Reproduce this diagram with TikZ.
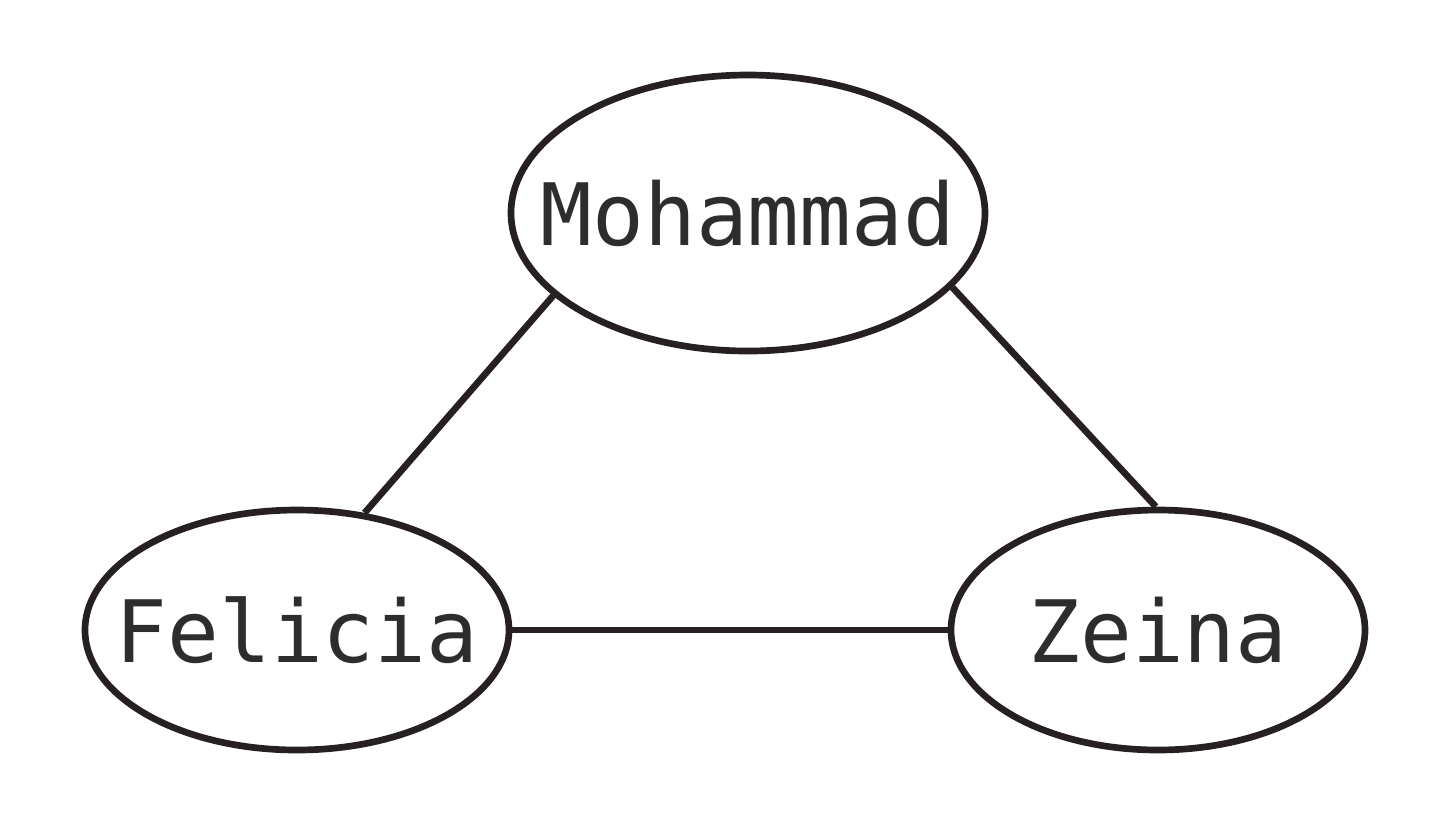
\documentclass[tikz,border=0pt]{standalone}
\usepackage{fontspec}
\setmonofont{DejaVu Sans Mono}
\usepackage{xcolor}
\usepackage{tikz}
\usetikzlibrary{shapes.geometric}
\definecolor{inkdark}{RGB}{38, 33, 32}
\definecolor{textgray}{RGB}{45, 45, 45}

\begin{document}
\begin{tikzpicture}[
    person/.style={ellipse, draw=inkdark, line width=1.9pt, inner sep=0pt,
                   font=\ttfamily\fontsize{24.5}{28}\selectfont, text=textgray},
    link/.style={line width=1.9pt, color=inkdark}
]
    \useasboundingbox (0,0) rectangle (14.4,-8.19);

    \node[person, minimum width=4.74cm, minimum height=2.76cm] (mohammad) at (7.48,-2.13) {\makebox[0pt]{Mohammad}};
    \node[person, minimum width=4.24cm, minimum height=2.40cm] (felicia)  at (2.97,-6.30) {\makebox[0pt]{Felicia}};
    \node[person, minimum width=4.14cm, minimum height=2.40cm] (zeina)    at (11.58,-6.30) {\makebox[0pt]{Zeina}};

    \draw[link] (felicia.60) -- (mohammad.203);
    \draw[link] (mohammad.340) -- (zeina.91);
    \draw[link] (felicia.east) -- (zeina.west);
\end{tikzpicture}
\end{document}
